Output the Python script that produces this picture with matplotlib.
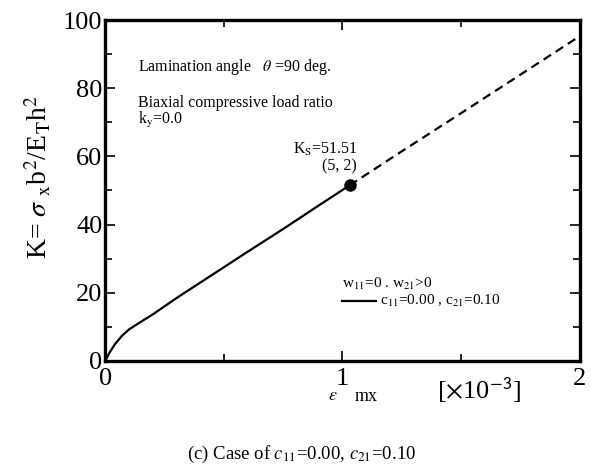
import matplotlib.pyplot as plt
from matplotlib.ticker import MultipleLocator

plt.rcParams['font.family'] = ['Liberation Serif', 'DejaVu Serif']
plt.rcParams['mathtext.fontset'] = 'stix'

# stable (solid) path
eps_solid = [0.0, 0.02, 0.04, 0.07, 0.10, 0.14, 0.20, 0.30, 0.45, 0.60, 0.75, 0.90, 1.03]
k_solid = [0.0, 2.6, 4.8, 7.3, 9.2, 11.0, 13.6, 18.4, 25.2, 32.0, 38.7, 45.6, 51.51]
# post-buckling (dashed) path
eps_dash = [1.03, 1.25, 1.50, 1.75, 2.0]
k_dash = [51.51, 61.5, 72.7, 84.0, 95.3]

fig = plt.figure(figsize=(5.91, 4.68), dpi=100)
ax = fig.add_axes([0.178, 0.229, 0.803, 0.728])

ax.plot(eps_solid, k_solid, 'k-', lw=1.6)
ax.plot(eps_dash, k_dash, 'k--', lw=1.6, dashes=(4, 2.5))
ax.plot([eps_solid[-1]], [k_solid[-1]], 'ko', ms=8)

ax.set_xlim(0, 2)
ax.set_ylim(0, 100)
ax.xaxis.set_major_locator(MultipleLocator(1))
ax.xaxis.set_minor_locator(MultipleLocator(0.5))
ax.yaxis.set_major_locator(MultipleLocator(20))
ax.yaxis.set_minor_locator(MultipleLocator(10))
ax.tick_params(which='both', direction='in', top=True, right=True, width=1.2)
ax.tick_params(which='major', length=7, labelsize=19, pad=2)
ax.tick_params(axis='x', which='major', pad=5)
ax.tick_params(which='minor', length=5)
for s in ax.spines.values():
    s.set_linewidth(2.4)

ax.set_ylabel(r'K= $\sigma$ $_{\rm x}$b$^2$/E$_{\rm T}$h$^2$', fontsize=20)
ax.yaxis.set_label_coords(-0.11, 0.54)

ax.text(0.07, 0.852, r'Lamination angle   $\theta$ =90 deg.', transform=ax.transAxes, fontsize=11.5)
ax.text(0.07, 0.745, 'Biaxial compressive load ratio', transform=ax.transAxes, fontsize=11.5)
ax.text(0.07, 0.695, r'k$_{\rm y}$=0.0', transform=ax.transAxes, fontsize=11.5)

ax.text(0.93, 60.8, r'K$_{\rm S}$=51.51', ha='center', fontsize=11.5)
ax.text(0.985, 55.8, '(5, 2)', ha='center', fontsize=11.5)

# legend
ax.text(1.0, 21.5, r'w$_{11}$=0 . w$_{21}$>0', fontsize=11)
ax.plot([1.0, 1.14], [17.5, 17.5], 'k-', lw=1.6)
ax.text(1.16, 16.5, r'c$_{11}$=0.00 , c$_{21}$=0.10', fontsize=11)

fig.text(0.563, 0.146, r'$\epsilon$', fontsize=13, ha='center')
fig.text(0.60, 0.143, 'mx', fontsize=13)
fig.text(0.81, 0.148, r'[$\times$10$^{\mathsf{-3}}$]', fontsize=19, ha='center')
fig.text(0.51, 0.02, r'(c) Case of $c_{11}$=0.00, $c_{21}$=0.10', fontsize=13.5, ha='center')

fig.savefig('out.png', dpi=100)
